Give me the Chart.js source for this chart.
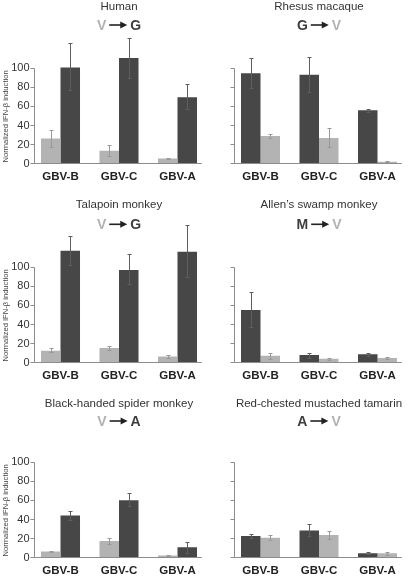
<!DOCTYPE html>
<html>
<head>
<meta charset="utf-8">
<script src="https://cdn.jsdelivr.net/npm/chart.js@4.4.0/dist/chart.umd.min.js"></script>
<style>
  html, body { margin: 0; padding: 0; background: #fff; }
  #wrap { position: relative; width: 410px; height: 576px; overflow: hidden; }
  #wrap canvas { position: absolute; }
</style>
</head>
<body>
<div id="wrap"></div>
<script>
const categories = ['GBV-B', 'GBV-C', 'GBV-A'];
const yTicks = [0, 20, 40, 60, 80, 100];
const species = ['Human', 'Rhesus macaque', 'Talapoin monkey', 'Allen\u2019s swamp monkey',
                 'Black-handed spider monkey', 'Red-chested mustached tamarin'];
const fromRes = ['V', 'G', 'V', 'M', 'V', 'A'];
const toRes = ['G', 'V', 'G', 'V', 'A', 'V'];

// normalized IFN-b induction, first bar = "from" residue, second = "to" residue
// error ranges are [low, high]
const humanFrom = [26, 13, 5];
const humanFromErr = [[17.5, 35], [7.6, 18.8], [4.3, 5.8]];
const humanTo = [100, 110, 69];
const humanToErr = [[76.5, 125.5], [89.5, 130.5], [56.5, 82.5]];

const rhesusFrom = [94, 92.5, 55.5];
const rhesusFromErr = [[79, 110], [75, 111], [54, 57]];
const rhesusTo = [28.5, 26.5, 1.7];
const rhesusToErr = [[26, 31], [17.5, 36.5], [1.2, 2.2]];

const talapoinFrom = [12, 15, 6];
const talapoinFromErr = [[10.5, 14.5], [13, 17], [4, 7.5]];
const talapoinTo = [116.5, 96.5, 115.5];
const talapoinToErr = [[102, 132], [82, 113], [89, 143.5]];

const allenFrom = [54.7, 7.6, 8.4];
const allenFromErr = [[37, 73.5], [5, 10], [7, 9.5]];
const allenTo = [6.9, 3.8, 4.5];
const allenToErr = [[3.5, 9.5], [2.5, 5], [3, 6]];

const spiderFrom = [6, 17, 2];
const spiderFromErr = [[5.5, 6.5], [14, 20], [1.5, 2.5]];
const spiderTo = [43.7, 59.7, 10.4];
const spiderToErr = [[39, 48], [53.5, 67], [5, 16]];

const tamarinFrom = [22.2, 28.1, 4.2];
const tamarinFromErr = [[20, 24.3], [22.2, 34.7], [3, 5.5]];
const tamarinTo = [20.4, 23.2, 4.2];
const tamarinToErr = [[18.1, 22.9], [19, 27.4], [2.5, 6]];

const panelValues = [
    [humanFrom, humanFromErr, humanTo, humanToErr],
    [rhesusFrom, rhesusFromErr, rhesusTo, rhesusToErr],
    [talapoinFrom, talapoinFromErr, talapoinTo, talapoinToErr],
    [allenFrom, allenFromErr, allenTo, allenToErr],
    [spiderFrom, spiderFromErr, spiderTo, spiderToErr],
    [tamarinFrom, tamarinFromErr, tamarinTo, tamarinToErr]
];

const FONT = '"Liberation Sans", Arial, Helvetica, sans-serif';

// layout per row
const rowTop = [0, 192, 384];
const rowZero = [163.3, 170.3, 173.3];
const rowTitleBase = [10, 16.3, 22.7];
const rowMutBase = [30, 37.3, 42];
const CANVAS_W = 210, CANVAS_H = 192;
const Y_MAX = 150, PX_PER_UNIT = 0.957;

function barColor(res) { return res === 'V' ? '#b3b3b3' : '#474747'; }
function errColor(res) { return res === 'V' ? '#999999' : '#5e5e5e'; }
function letterColor(res) { return res === 'V' ? '#b2b2b2' : '#3d3d3d'; }

const panelDeco = {
    id: 'panelDeco',
    afterDatasetsDraw(chart, args, opts) {
        const ctx = chart.ctx;
        const xs = chart.scales.x, ys = chart.scales.y;
        const area = chart.chartArea;

        // error bars
        chart.data.datasets.forEach((ds, i) => {
            const meta = chart.getDatasetMeta(i);
            ctx.save();
            ctx.strokeStyle = ds.errColor;
            ctx.lineWidth = 1;
            meta.data.forEach((bar, j) => {
                const lo = ds.err[j][0], hi = ds.err[j][1];
                const bx = Math.round(bar.x) + 0.5;
                const y1 = Math.round(ys.getPixelForValue(lo)) + 0.5;
                const y2 = Math.round(ys.getPixelForValue(hi)) + 0.5;
                ctx.beginPath();
                ctx.moveTo(bx, y1); ctx.lineTo(bx, y2);
                ctx.moveTo(bx - 2, y1); ctx.lineTo(bx + 2, y1);
                ctx.moveTo(bx - 2, y2); ctx.lineTo(bx + 2, y2);
                ctx.stroke();
            });
            ctx.restore();
        });

        // axes
        const axX = Math.round(area.left + 2.5) + 0.5;
        const zeroY = Math.round(ys.getPixelForValue(0)) + 0.5;
        const topY = Math.round(ys.getPixelForValue(yTicks[yTicks.length - 1])) + 0.5;
        ctx.save();
        ctx.strokeStyle = '#8c8c8c';
        ctx.lineWidth = 1;
        ctx.beginPath();
        ctx.moveTo(axX, topY); ctx.lineTo(axX, zeroY);
        ctx.moveTo(axX, zeroY); ctx.lineTo(area.right - 5, zeroY);
        yTicks.forEach(t => {
            const ty = Math.round(ys.getPixelForValue(t)) + 0.5;
            ctx.moveTo(axX - 4, ty); ctx.lineTo(axX, ty);
        });
        ctx.stroke();

        // y tick labels (left column only)
        if (opts.showY) {
            ctx.fillStyle = '#333';
            ctx.font = '11px ' + FONT;
            ctx.textAlign = 'right';
            ctx.textBaseline = 'middle';
            yTicks.forEach(t => {
                ctx.fillText(String(t), axX - 5, ys.getPixelForValue(t) + 0.5);
            });
            ctx.save();
            ctx.translate(5.5, ys.getPixelForValue(50) + 1);
            ctx.rotate(-Math.PI / 2);
            ctx.font = '7.6px ' + FONT;
            ctx.fillStyle = '#444';
            ctx.textAlign = 'center';
            ctx.textBaseline = 'middle';
            ctx.fillText('Normalized IFN-\u03b2 induction', 0, 0);
            ctx.restore();
        }

        // category labels
        ctx.fillStyle = '#222';
        ctx.font = 'bold 11.5px ' + FONT;
        ctx.textAlign = 'center';
        ctx.textBaseline = 'alphabetic';
        categories.forEach((c, i) => {
            ctx.fillText(c, xs.getPixelForValue(i), ys.getPixelForValue(0) + 16.3);
        });

        // species title
        const cx = (area.left + area.right) / 2;
        ctx.fillStyle = '#333';
        ctx.font = '11.5px ' + FONT;
        ctx.fillText(opts.title, cx, opts.titleBase);

        // mutation "X -> Y"
        ctx.font = 'bold 14px ' + FONT;
        const w1 = ctx.measureText(opts.from).width;
        const w2 = ctx.measureText(opts.to).width;
        const arrowLen = 18, gap = 3;
        const total = w1 + gap + arrowLen + gap + w2;
        let sx = cx - total / 2;
        ctx.textAlign = 'left';
        ctx.fillStyle = letterColor(opts.from);
        ctx.fillText(opts.from, sx, opts.mutBase);
        sx += w1 + gap;
        const ay = opts.mutBase - 5;
        ctx.strokeStyle = '#222';
        ctx.fillStyle = '#222';
        ctx.lineWidth = 1.6;
        ctx.beginPath();
        ctx.moveTo(sx, ay); ctx.lineTo(sx + arrowLen - 5, ay);
        ctx.stroke();
        ctx.beginPath();
        ctx.moveTo(sx + arrowLen, ay);
        ctx.lineTo(sx + arrowLen - 7, ay - 3.5);
        ctx.lineTo(sx + arrowLen - 7, ay + 3.5);
        ctx.closePath();
        ctx.fill();
        sx += arrowLen + gap;
        ctx.fillStyle = letterColor(opts.to);
        ctx.fillText(opts.to, sx, opts.mutBase);
        ctx.restore();
    }
};

const wrap = document.getElementById('wrap');

species.forEach((name, p) => {
    const row = Math.floor(p / 2), col = p % 2;
    const canvas = document.createElement('canvas');
    canvas.width = CANVAS_W;
    canvas.height = CANVAS_H;
    canvas.style.left = (col === 0 ? 0 : 200) + 'px';
    canvas.style.top = rowTop[row] + 'px';
    canvas.style.width = CANVAS_W + 'px';
    canvas.style.height = CANVAS_H + 'px';
    wrap.appendChild(canvas);

    const vals = panelValues[p];
    const zero = rowZero[row];
    const areaH = Y_MAX * PX_PER_UNIT;

    new Chart(canvas.getContext('2d'), {
        type: 'bar',
        data: {
            labels: categories,
            datasets: [
                {
                    data: vals[0], err: vals[1],
                    backgroundColor: barColor(fromRes[p]),
                    errColor: errColor(fromRes[p])
                },
                {
                    data: vals[2], err: vals[3],
                    backgroundColor: barColor(toRes[p]),
                    errColor: errColor(toRes[p])
                }
            ]
        },
        options: {
            responsive: false,
            animation: false,
            devicePixelRatio: 1,
            layout: {
                padding: { left: 31.25, right: 3.25, top: zero - areaH, bottom: CANVAS_H - zero }
            },
            datasets: {
                bar: { categoryPercentage: 0.667, barPercentage: 1.0, borderWidth: 0 }
            },
            scales: {
                x: { display: false, offset: true },
                y: { display: false, min: 0, max: Y_MAX }
            },
            plugins: {
                legend: { display: false },
                tooltip: { enabled: false },
                panelDeco: {
                    title: name,
                    from: fromRes[p],
                    to: toRes[p],
                    showY: col === 0,
                    titleBase: rowTitleBase[row],
                    mutBase: rowMutBase[row]
                }
            }
        },
        plugins: [panelDeco]
    });
});
</script>
</body>
</html>
